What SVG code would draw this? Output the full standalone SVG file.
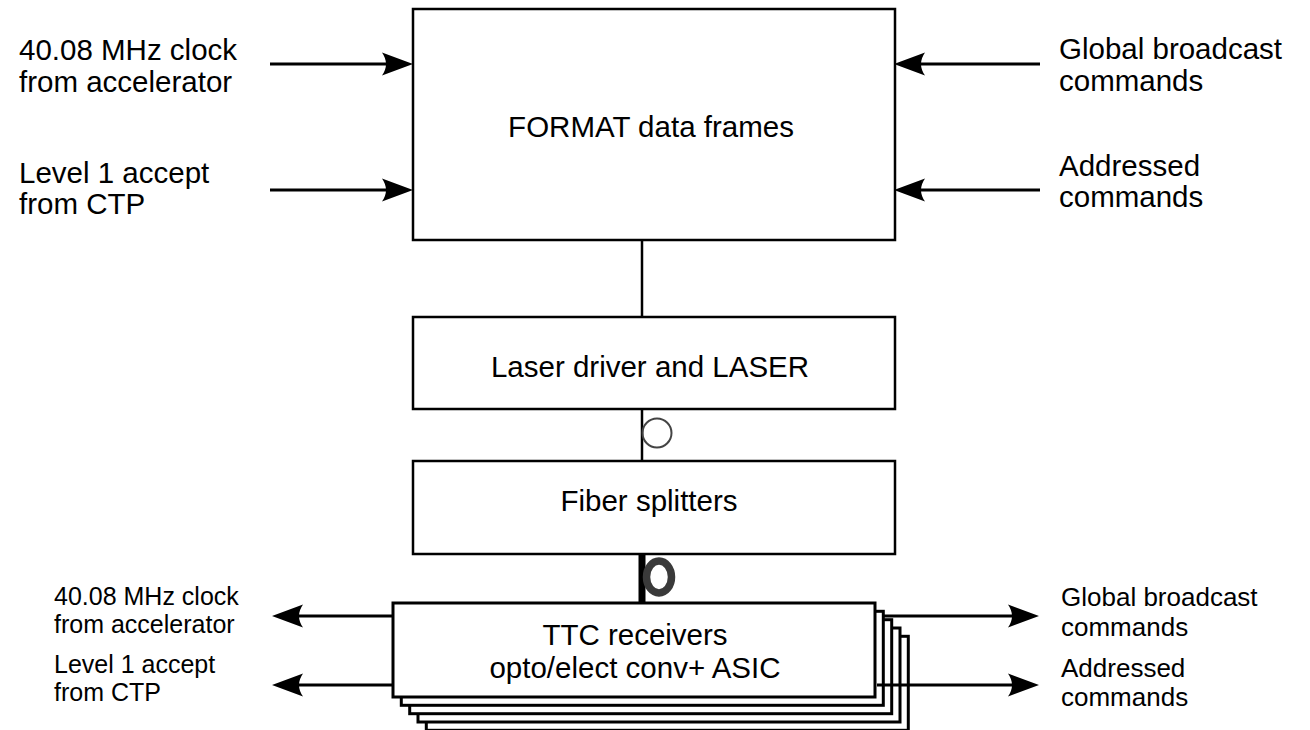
<svg xmlns="http://www.w3.org/2000/svg" width="1310" height="730" viewBox="0 0 1310 730">
  <style>
    .box { fill: #ffffff; stroke: #000000; stroke-width: 2.5; }
    .stk { fill: #ffffff; stroke: #000000; stroke-width: 3; }
    .lbl { font-family: "Liberation Sans", Arial, Helvetica, sans-serif; font-size: 29.5px; fill: #000000; }
    .sm { font-family: "Liberation Sans", Arial, Helvetica, sans-serif; font-size: 25px; fill: #000000; }
    .smr { font-family: "Liberation Sans", Arial, Helvetica, sans-serif; font-size: 26px; fill: #000000; }
    .mid { text-anchor: middle; }
    .wire { stroke: #000000; stroke-width: 2.5; fill: none; }
    .arrow { stroke: #000000; stroke-width: 3; fill: none; marker-end: url(#ah); }
  </style>
  <defs>
    <marker id="ah" markerUnits="userSpaceOnUse" viewBox="0 -12 32 24" refX="4" refY="0" markerWidth="32" markerHeight="24" orient="auto">
      <path d="M0,-11.5 L31,0 L0,11.5 Q8,0 0,-11.5 Z" fill="#000000"/>
    </marker>
  </defs>
  <rect width="1310" height="730" fill="#ffffff"/>

  <g id="format">
    <rect class="box" x="413" y="9" width="482" height="231"/>
    <text class="lbl mid" x="651" y="137">FORMAT data frames</text>
  </g>

  <g id="laser">
    <rect class="box" x="413" y="317" width="482" height="92"/>
    <text class="lbl mid" x="650" y="377">Laser driver and LASER</text>
  </g>

  <g id="splitters">
    <rect class="box" x="413" y="461" width="482" height="93"/>
    <text class="lbl mid" x="649" y="511">Fiber splitters</text>
  </g>

  <g id="ttc">
    <rect class="stk" x="426.3" y="636.3" width="482" height="94"/>
    <rect class="stk" x="418" y="628" width="482" height="94"/>
    <rect class="stk" x="409.7" y="619.7" width="482" height="94"/>
    <rect class="stk" x="401.3" y="611.3" width="482" height="94"/>
    <rect class="stk" x="393" y="603" width="482" height="94"/>
    <text class="lbl mid" x="635" y="645">TTC receivers</text>
    <text class="lbl mid" x="635" y="678">opto/elect conv+ ASIC</text>
  </g>

  <g id="labels">
    <text class="lbl" x="19" y="60">40.08 MHz clock</text>
    <text class="lbl" x="19" y="92">from accelerator</text>
    <text class="lbl" x="19" y="183">Level 1 accept</text>
    <text class="lbl" x="19" y="214">from CTP</text>
    <text class="lbl" x="1059" y="59">Global broadcast</text>
    <text class="lbl" x="1059" y="91">commands</text>
    <text class="lbl" x="1059" y="176">Addressed</text>
    <text class="lbl" x="1059" y="207">commands</text>
    <text class="sm" x="54" y="605">40.08 MHz clock</text>
    <text class="sm" x="54" y="633">from accelerator</text>
    <text class="sm" x="54" y="673">Level 1 accept</text>
    <text class="sm" x="54" y="701">from CTP</text>
    <text class="smr" x="1061" y="606">Global broadcast</text>
    <text class="smr" x="1061" y="636">commands</text>
    <text class="smr" x="1061" y="677">Addressed</text>
    <text class="smr" x="1061" y="706">commands</text>
  </g>

  <g id="connectors">
    <line class="arrow" x1="270" y1="64" x2="386" y2="64"/>
    <line class="arrow" x1="270" y1="190" x2="386" y2="190"/>
    <line class="arrow" x1="1040" y1="64" x2="921" y2="64"/>
    <line class="arrow" x1="1040" y1="190" x2="921" y2="190"/>
    <line class="wire" x1="642" y1="240" x2="642" y2="317"/>
    <line class="wire" x1="642" y1="409" x2="642" y2="461"/>
    <circle cx="657" cy="433" r="14.5" fill="none" stroke="#444444" stroke-width="2"/>
    <line x1="642" y1="554" x2="642" y2="603" stroke="#000000" stroke-width="7"/>
    <ellipse cx="659" cy="577" rx="12.5" ry="16" fill="none" stroke="#3a3a3a" stroke-width="7.5"/>
    <line class="arrow" x1="393" y1="616" x2="299" y2="616"/>
    <line class="arrow" x1="393" y1="685" x2="299" y2="685"/>
    <line class="arrow" x1="883" y1="616" x2="1012" y2="616"/>
    <line class="arrow" x1="877" y1="685" x2="1012" y2="685"/>
  </g>
</svg>
